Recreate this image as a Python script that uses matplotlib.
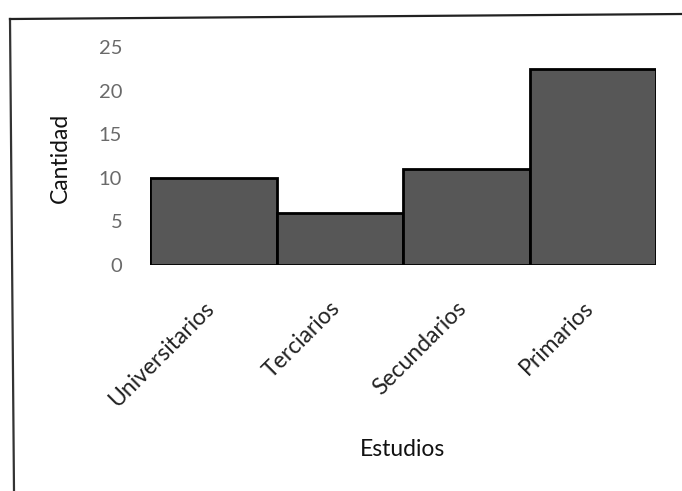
import matplotlib.pyplot as plt
from matplotlib.lines import Line2D
from matplotlib.transforms import ScaledTranslation

plt.rcParams["font.family"] = ["Lato", "DejaVu Sans"]

estudios = ["Universitarios", "Terciarios", "Secundarios", "Primarios"]
cantidad = [10, 6, 11, 22.5]
y_ticks = [0, 5, 10, 15, 20, 25]

W, H = 682, 491


def main():
    fig = plt.figure(figsize=(W / 100, H / 100), dpi=100)
    ax = fig.add_axes([150 / W, 1 - 265 / H, 506 / W, 218 / H])

    ax.bar(range(len(estudios)), cantidad, width=1.0, color="#575757",
           edgecolor="black", linewidth=2.0)

    ax.set_xlim(-0.5, len(estudios) - 0.5)
    ax.set_ylim(0, 25)
    ax.set_yticks(y_ticks)
    ax.set_yticklabels([str(t) for t in y_ticks], fontsize=14.5,
                       color="#6a6a6a")
    ax.tick_params(axis="y", length=0, pad=20)
    ax.tick_params(axis="x", length=0, pad=0)

    ax.set_xticks(range(len(estudios)))
    ax.set_xticklabels(estudios, fontsize=16.5, rotation=45, ha="right",
                       va="center", rotation_mode="anchor", color="#222222")
    shift = ScaledTranslation(-3 / 100, -40 / 100, fig.dpi_scale_trans)
    for lbl in ax.get_xticklabels():
        lbl.set_transform(lbl.get_transform() + shift)

    for side in ("top", "right", "left", "bottom"):
        ax.spines[side].set_visible(False)

    ax.set_xlabel("Estudios", fontsize=16.5, color="#111111")
    ax.xaxis.set_label_coords(0.5, -0.80)
    ax.set_ylabel("Cantidad", fontsize=16.5, color="#111111")
    ax.yaxis.set_label_coords(-0.156, 0.493)

    # outer frame: left edge and top edge, both a little tilted
    fig.add_artist(Line2D([10 / W, 14 / W], [1 - 19 / H, 0],
                          color="#333333", linewidth=1.6))
    fig.add_artist(Line2D([10 / W, 1.0], [1 - 19 / H, 1 - 14 / H],
                          color="#222222", linewidth=1.6))

    fig.savefig("out.png", dpi=100)


if __name__ == "__main__":
    main()
